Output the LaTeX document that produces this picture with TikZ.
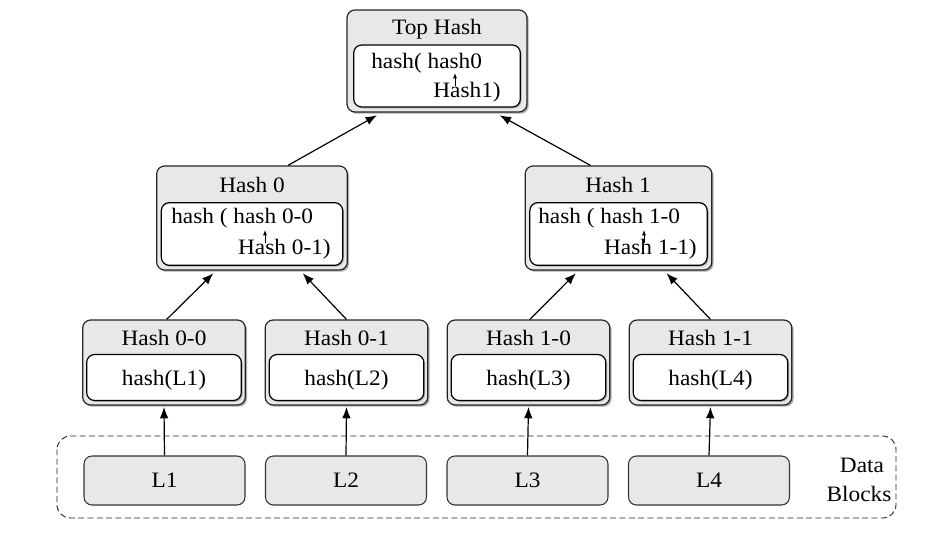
\documentclass[tikz,border=0pt]{standalone}
\usepackage{fontspec}
\setmainfont{Liberation Serif}[FakeStretch=1.06]
\usetikzlibrary{arrows.meta,shadows}
\begin{document}
\begin{tikzpicture}[x=0.75pt,y=-0.75pt,
  outer/.style={draw=black!85, line width=0.9pt, fill=gray!18, rounded corners=6pt,
    drop shadow={shadow xshift=1.3pt, shadow yshift=-1.3pt, fill=gray!65, opacity=1}},
  inner/.style={draw=black, line width=0.9pt, fill=white, rounded corners=6pt,
    drop shadow={shadow xshift=1pt, shadow yshift=-1pt, fill=gray!65, opacity=1}},
  datab/.style={draw=black!80, line width=0.8pt, fill=gray!18, rounded corners=6pt,
    minimum width=120.75pt, minimum height=36.75pt, font=\fontsize{16.5}{19}\selectfont},
  txt/.style={font=\fontsize{16.5}{19}\selectfont, inner sep=0pt},
  leafo/.style={outer, minimum width=122pt, minimum height=63.75pt},
  leafi/.style={inner, minimum width=116pt, minimum height=34.5pt},
  arr/.style={-{Latex[length=8.5pt,width=6.5pt]}, line width=0.9pt},
  sarr/.style={-{Latex[length=4pt,width=3pt]}, line width=0.7pt},
  dblock/.style={draw=black!85, dashed, dash pattern=on 4.5pt off 2.5pt, line width=0.7pt, rounded corners=10pt}
]
\useasboundingbox (0,0) rectangle (926,537);

% data blocks frame
\draw[dblock] (57,436) rectangle (896,518);
\node[txt] (dlab1) at (862,465) {Data};
\node[txt] (dlab2) at (859,494) {Blocks};

% Top hash
\node[outer, minimum width=135pt, minimum height=76.5pt] (top) at (437,61) {};
\node[inner, minimum width=125pt, minimum height=46.5pt] (topin) at (437,76) {};
\node[txt, anchor=base] (toptitle) at (437,34) {Top Hash};
\node[txt, anchor=base west] (topl1) at (371,68) {hash( hash0};
\node[txt, anchor=base east] (topl2) at (501,97) {Hash1)};
\coordinate (ta) at (455,86);
\coordinate (tb) at (455,73);
\draw[sarr] (ta) -- (tb);

% Hash 0
\node[outer, minimum width=143pt, minimum height=78pt] (h0) at (252,218) {};
\node[inner, minimum width=136pt, minimum height=47pt] (h0in) at (252,234) {};
\node[txt, anchor=base] (h0title) at (252,192) {Hash 0};
\node[txt, anchor=base west] (h0l1) at (171,223) {hash ( hash 0-0};
\node[txt, anchor=base east] (h0l2) at (331,254) {Hash 0-1)};
\coordinate (h0a) at (265,243);
\coordinate (h0b) at (265,230);
\draw[sarr] (h0a) -- (h0b);

% Hash 1
\node[outer, minimum width=140pt, minimum height=78pt] (h1) at (618.5,218) {};
\node[inner, minimum width=133pt, minimum height=47pt] (h1in) at (618.5,234) {};
\node[txt, anchor=base] (h1title) at (618,192) {Hash 1};
\node[txt, anchor=base west] (h1l1) at (538,223) {hash ( hash 1-0};
\node[txt, anchor=base east] (h1l2) at (697,254) {Hash 1-1)};
\coordinate (h1a) at (644,243);
\coordinate (h1b) at (644,230);
\draw[sarr] (h1a) -- (h1b);

% leaves
\foreach \n/\x/\t/\lab in {h00/164/Hash 0-0/L1, h01/346.5/Hash 0-1/L2, h10/528.5/Hash 1-0/L3, h11/710.5/Hash 1-1/L4}{
  \node[leafo] (\n) at (\x,362.5) {};
  \node[leafi] (\n in) at (\x,377.5) {};
  \node[txt, anchor=base] (\n title) at (\x,345) {\t};
  \node[txt, anchor=base] (\n text) at (\x,385) {hash(\lab)};
}

% data nodes
\node[datab] (L1) at (164.5,480.5) {L1};
\node[datab] (L2) at (346,480.5) {L2};
\node[datab] (L3) at (527.5,480.5) {L3};
\node[datab] (L4) at (709,480.5) {L4};

% arrows data -> leaves
\draw[arr] (L1.north) -- ([yshift=-1pt]h00.south);
\draw[arr] (L2.north) -- ([yshift=-1pt]h01.south);
\draw[arr] (L3.north) -- ([yshift=-1pt]h10.south);
\draw[arr] (L4.north) -- ([yshift=-1pt]h11.south);

% leaves -> level 1
\draw[arr] ([xshift=2pt]h00.north) -- ([xshift=-29pt,yshift=-2pt]h0.south);
\draw[arr] ([xshift=0pt]h01.north) -- ([xshift=38pt,yshift=-2pt]h0.south);
\draw[arr] ([xshift=1pt]h10.north) -- ([xshift=-32pt,yshift=-2pt]h1.south);
\draw[arr] ([xshift=0pt]h11.north) -- ([xshift=36pt,yshift=-2pt]h1.south);

% level 1 -> top
\draw[arr] ([xshift=27pt]h0.north) -- ([xshift=-45pt,yshift=-2pt]top.south);
\draw[arr] ([xshift=-21pt]h1.north) -- ([xshift=47pt,yshift=-2pt]top.south);
\end{tikzpicture}
\end{document}
